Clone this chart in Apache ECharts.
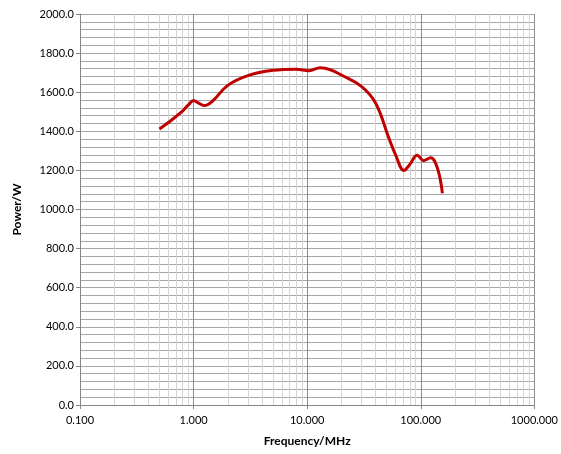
<!DOCTYPE html>
<html>
<head>
<meta charset="utf-8">
<script src="https://cdn.jsdelivr.net/npm/echarts@6/dist/echarts.min.js"></script>
<style>html,body{margin:0;padding:0;background:#fff;}#c{width:561px;height:454px;}</style>
</head>
<body>
<div id="c"></div>
<script>
const titleText = 'Frequency vs Power';
const xName = 'Frequency/MHz';
const yName = 'Power/W';
const freqs  = [0.5, 0.6, 0.77, 0.9, 1.0, 1.1, 1.24, 1.47, 2.0, 3.0, 5.0, 8.0, 10.4, 13.0, 16, 20, 30, 40, 52, 60, 71, 80, 93, 106, 122, 140, 155];
const powers = [1412, 1445, 1495, 1535, 1558, 1545, 1532, 1555, 1635, 1685, 1712, 1718, 1710, 1725, 1715, 1688, 1630, 1545, 1370, 1280, 1200, 1230, 1278, 1250, 1265, 1212, 1083];
const minorFreqs = [];
[0.1, 1, 10, 100].forEach(d => { for (let k = 2; k <= 9; k++) minorFreqs.push(+(d * k).toPrecision(3)); });

const font = 'Lato, "Liberation Sans", sans-serif';
const chart = echarts.init(document.getElementById('c'));
chart.setOption({
  animation: false,
  title: {
    text: titleText, left: 215, top: -19,
    textStyle: {fontFamily: font, fontSize: 13, fontWeight: 'bold', color: '#000', lineHeight: 16}
  },
  grid: {left: 80, right: 25, top: 14, bottom: 49},
  xAxis: {
    type: 'log', logBase: 10, min: 0.1, max: 1000,
    name: xName, nameLocation: 'middle', nameGap: 30,
    nameTextStyle: {fontFamily: font, fontSize: 12, fontWeight: 'bold', color: '#000'},
    axisLine: {show: true, onZero: false, lineStyle: {color: '#868686', width: 1}},
    axisTick: {show: true, inside: false, length: 4, lineStyle: {color: '#868686'}},
    axisLabel: {fontFamily: font, fontSize: 11, color: '#000', margin: 10,
      formatter: v => Number(v).toFixed(3)},
    splitLine: {show: true, lineStyle: {color: '#8c8c8c', width: 1}}
  },
  yAxis: {
    type: 'value', min: 0, max: 2000, interval: 200,
    name: yName, nameLocation: 'middle', nameGap: 57, nameRotate: 90,
    nameTextStyle: {fontFamily: font, fontSize: 12, fontWeight: 'bold', color: '#000'},
    axisLine: {show: true, lineStyle: {color: '#868686'}},
    axisTick: {show: true, length: 4, lineStyle: {color: '#868686'}},
    axisLabel: {fontFamily: font, fontSize: 11, color: '#000', margin: 6,
      formatter: v => Number(v).toFixed(1)},
    splitLine: {show: true, lineStyle: {color: '#a6a6a6', width: 1}},
    minorTick: {show: false, splitNumber: 5},
    minorSplitLine: {show: true, lineStyle: {color: '#a6a6a6', width: 1}}
  },
  series: [
    {
      type: 'line', data: [], silent: true, z: 1,
      markLine: {
        silent: true, symbol: ['none', 'none'], z: 1, label: {show: false},
        lineStyle: {color: '#d4d4d4', type: 'solid', width: 1},
        data: minorFreqs.map(f => ({xAxis: f}))
      }
    },
    {
      type: 'line', z: 5, smooth: 0.4, showSymbol: false,
      data: freqs.map((f, i) => [f, powers[i]]),
      lineStyle: {color: '#c00000', width: 3},
      itemStyle: {color: '#c00000'}
    }
  ]
});
</script>
</body>
</html>
